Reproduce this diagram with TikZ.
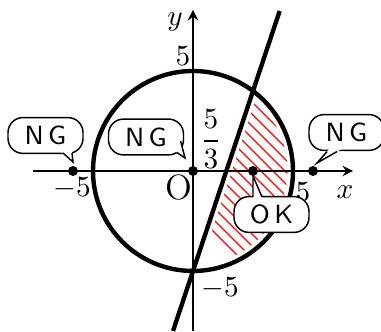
\documentclass[tikz,border=0pt]{standalone}
\usepackage{amsmath}
\usepackage{tikz}
\usetikzlibrary{arrows, calc, positioning}

% callout tail: base point, tip, base point
\newcommand{\pointer}[3]{%
  \fill[white] ($(#2)!1.3!(#1)$) -- (#2) -- ($(#2)!1.3!(#3)$) -- cycle;
  \draw[line width=0.5pt] (#1) -- (#2) -- (#3);}

\begin{document}
\begin{tikzpicture}[x=0.24cm, y=0.24cm,
    curve/.style={line width=1.5pt},
    axis/.style={semithick, -stealth},
    dot/.style={circle, fill=black, inner sep=0pt, minimum size=0.12cm},
    bubble/.style={rectangle, draw=black, line width=0.5pt, fill=white, rounded corners=0.18cm, minimum width=0.9cm, minimum height=0.43cm, inner sep=1pt, font=\sffamily\small}
]
\useasboundingbox (-9.65,-8.05) rectangle (9.4,8.55);

\coordinate (o) at (0,0);
\coordinate (xl) at (-8,0);
\coordinate (xr) at (8,0);
\coordinate (yb) at (0,-8);
\coordinate (yt) at (0,8.05);
\coordinate (lb) at (-1,-8);
\coordinate (lt) at (13/3,8);

% hatched region
\begin{scope}
\clip (o) circle (4.72);
\clip (-0.72,-8) -- (4.61,8) -- (9,8) -- (9,-8) -- cycle;
\foreach \c in {-2,-1.4,...,10}
    \draw[red, thin] (\c-6,6) -- (\c+6,-6);
\end{scope}

\draw[axis] (xl) -- (xr);
\draw[axis] (yb) -- (yt);
\draw[curve] (o) circle (5);
\draw[curve] (lb) -- (lt);

\node[dot] (pm6) at (-6,0) {};
\node[dot] (p0) at (0,0) {};
\node[dot] (p3) at (3,0) {};
\node[dot] (p6) at (6,0) {};

\node (ylab) at (-0.9,7.45) {$y$};
\node (xlab) at (7.6,-1.05) {$x$};
\node (y5) at (-0.5,5.75) {$5$};
\node (ym5) at (1.35,-5.85) {$-5$};
\node (xm5) at (-6.05,-0.85) {$-5$};
\node (x5) at (5.5,-1.05) {$5$};
\node (olab) at (-0.7,-0.85) {\large O};
\node (frac) at (0.9,1.6) {$\dfrac{5}{3}$};

\node[bubble] (ngl) at (-7.375,1.775) {N\,G};
\pointer{-6.5,0.9}{-6.0,0.45}{-6.05,0.9}
\node[bubble] (ngm) at (-2.35,1.7) {N\,G};
\pointer{-0.62,1.5}{-0.4,0.65}{-0.8,0.92}
\node[bubble] (ngr) at (7.675,1.925) {N\,G};
\pointer{6.7,0.97}{6.2,0.4}{7.2,0.97}
\node[bubble] (ok) at (3.925,-2.175) {O\,K};
\pointer{3.0,-1.3}{3.0,-0.25}{3.45,-1.3}
\end{tikzpicture}
\end{document}
